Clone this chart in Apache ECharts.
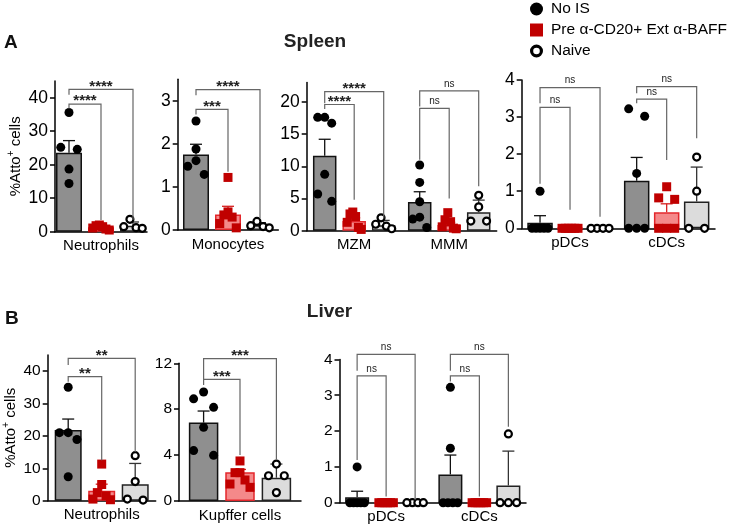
<!DOCTYPE html>
<html><head><meta charset="utf-8">
<script src="https://cdn.jsdelivr.net/npm/echarts@6/dist/echarts.min.js"></script>
<style>html,body{margin:0;padding:0;background:#fff}#c{width:733px;height:527px}</style>
</head><body><div id="c"></div>
<script>
const groupNames = ['No IS', 'Pre α-CD20+ Ext α-BAFF', 'Naive'];

// ---- Spleen: Neutrophils ----
const spNeuCats = ['Neutrophils'];
const spNeuTicks = [0, 10, 20, 30, 40];
const spNeuMeans = [[23.6], [1.3], [1.8]];
const spNeuErr = [[27.2], [1.7], [2.9]];
const spNeuPts = [[[35.6, 25.2, 24.6, 18.7, 14.4]], [[2.0, 1.8, 1.5, 1.1, 0.8, 0.5]], [[3.7, 1.5, 1.2, 1.0]]];
const spNeuBr = [[0, 0, 1, 38.1, 36.8, 3.5, '****'], [0, 0, 2, 42.5, 40.9, 3.6, '****']];

// ---- Spleen: Monocytes ----
const spMonCats = ['Monocytes'];
const spMonTicks = [0, 1, 2, 3];
const spMonMeans = [[1.75], [0.36], [0.11]];
const spMonErr = [[1.99], [0.55], [0.17]];
const spMonPts = [[[2.53, 1.88, 1.61, 1.48, 1.29]], [[1.22, 0.42, 0.35, 0.3, 0.15, 0.05]], [[0.2, 0.1, 0.08, 0.05]]];
const spMonBr = [[0, 0, 1, 2.8, 2.68, 1.35, '***'], [0, 0, 2, 3.26, 3.13, 0.27, '****']];

// ---- Spleen: MZM / MMM ----
const spMacCats = ['MZM', 'MMM'];
const spMacTicks = [0, 5, 10, 15, 20];
const spMacMeans = [[11.65, 4.45], [1.5, 0.9], [0.85, 2.85]];
const spMacErr = [[14.2, 6.05], [2.0, 1.3], [1.6, 4.75]];
const spMacPts = [
  [[17.6, 16.7, 17.6, 8.75, 5.7, 4.56], [10.2, 7.5, 4.5, 2.1, 1.8, 0.5]],
  [[2.9, 2.6, 2.2, 1.3, 0.5, 0.2], [2.8, 1.7, 1.4, 0.6, 0.4, 0.3]],
  [[2.0, 1.0, 0.7, 0.3], [5.5, 3.7, 1.5, 1.5]]
];
const spMacBr = [[0, 0, 1, 19.6, 18.9, 4.8, '****'], [0, 0, 2, 21.6, 19.8, 1.9, '****'],
                 [1, 0, 1, 19.0, 11.0, 5.0, 'ns'], [1, 0, 2, 21.7, 19.3, 6.9, 'ns']];

// ---- Spleen: pDCs / cDCs ----
const spDcCats = ['pDCs', 'cDCs'];
const spDcTicks = [0, 1, 2, 3, 4];
const spDcMeans = [[0.15, 1.28], [0, 0.43], [0, 0.72]];
const spDcErr = [[0.34, 1.91], [0, 0.66], [0, 1.65]];
const spDcPts = [
  [[1.0, 0, 0, 0, 0, 0], [3.22, 3.02, 1.48, 0, 0, 0]],
  [[0, 0, 0, 0, 0, 0], [1.12, 0.82, 0.78, 0, 0, 0]],
  [[0, 0, 0, 0], [1.92, 1.0, 0, 0]]
];
const spDcBr = [[0, 0, 1, 3.26, 1.2, 0.5, 'ns'], [0, 0, 2, 3.79, 3.37, 0.31, 'ns'],
                [1, 0, 1, 3.48, 3.37, 1.84, 'ns'], [1, 0, 2, 3.82, 3.64, 2.43, 'ns']];

// ---- Liver: Neutrophils ----
const lvNeuCats = ['Neutrophils'];
const lvNeuTicks = [0, 10, 20, 30, 40];
const lvNeuMeans = [[21.8], [3.1], [5.1]];
const lvNeuErr = [[25.2], [5.1], [11.5]];
const lvNeuPts = [[[35, 21, 21, 18.9, 7.4]], [[11.3, 5.0, 2.5, 1.5, 0.5, 0.3]], [[13.9, 5.9, 0.5, 0.2]]];
const lvNeuBr = [[0, 0, 1, 38.3, 36.7, 12.5, '**'], [0, 0, 2, 43.9, 41.9, 15.0, '**']];

// ---- Liver: Kupffer cells ----
const lvKupCats = ['Kupffer cells'];
const lvKupTicks = [0, 4, 8, 12];
const lvKupMeans = [[6.84], [2.5], [2.03]];
const lvKupErr = [[7.84], [2.75], [3.22]];
const lvKupPts = [[[9.5, 8.9, 8.16, 6.42, 4.39, 3.98]], [[3.49, 2.47, 2.47, 1.83, 1.48, 1.19]], [[3.22, 2.2, 2.2, 0.73]]];
const lvKupBr = [[0, 0, 1, 10.6, 10.1, 4.0, '***'], [0, 0, 2, 12.4, 10.6, 3.6, '***']];

// ---- Liver: pDCs / cDCs ----
const lvDcCats = ['pDCs', 'cDCs'];
const lvDcTicks = [0, 1, 2, 3, 4];
const lvDcMeans = [[0.15, 0.79], [0, 0], [0, 0.48]];
const lvDcErr = [[0.32, 1.33], [0, 0], [0, 1.44]];
const lvDcPts = [
  [[1.0, 0, 0, 0, 0, 0], [3.22, 1.52, 0, 0, 0, 0]],
  [[0, 0, 0, 0, 0, 0], [0, 0, 0, 0, 0, 0]],
  [[0, 0, 0, 0], [1.92, 0, 0, 0]]
];
const lvDcBr = [[0, 0, 1, 3.54, 1.19, 0.17, 'ns'], [0, 0, 2, 4.14, 3.68, 0.08, 'ns'],
                [1, 0, 1, 3.54, 3.38, 0.17, 'ns'], [1, 0, 2, 4.14, 3.68, 2.12, 'ns']];

// ---- layout (positions/sizes) ----
const panels = [
  {cats: spNeuCats, ticks: spNeuTicks, means: spNeuMeans, err: spNeuErr, pts: spNeuPts, br: spNeuBr, yMax: 45,
   grid: {left: 55, top: 81, width: 92, height: 150.7}, bw: 26, sp: 32, tf: 17.5, yName: true, nameGap: 30},
  {cats: spMonCats, ticks: spMonTicks, means: spMonMeans, err: spMonErr, pts: spMonPts, br: spMonBr, yMax: 3.5,
   grid: {left: 177.7, top: 79.2, width: 100.6, height: 150.8}, bw: 26, sp: 32, tf: 17.5},
  {cats: spMacCats, ticks: spMacTicks, means: spMacMeans, err: spMacErr, pts: spMacPts, br: spMacBr, yMax: 23,
   grid: {left: 306.7, top: 82.6, width: 190, height: 148.1}, bw: 23.5, sp: 29.5, tf: 17.5},
  {cats: spDcCats, ticks: spDcTicks, means: spDcMeans, err: spDcErr, pts: spDcPts, br: spDcBr, yMax: 4,
   grid: {left: 521.7, top: 79.9, width: 193.3, height: 148.4}, bw: 25.5, sp: 30, tf: 17.5},
  {cats: lvNeuCats, ticks: lvNeuTicks, means: lvNeuMeans, err: lvNeuErr, pts: lvNeuPts, br: lvNeuBr, yMax: 45,
   grid: {left: 47.7, top: 354.9, width: 108, height: 145.8}, bw: 27, sp: 33.5, tf: 15.5, yName: true, nameGap: 25},
  {cats: lvKupCats, ticks: lvKupTicks, means: lvKupMeans, err: lvKupErr, pts: lvKupPts, br: lvKupBr, yMax: 12,
   grid: {left: 179, top: 363.3, width: 122, height: 137.7}, bw: 29.5, sp: 36.4, tf: 15.5},
  {cats: lvDcCats, ticks: lvDcTicks, means: lvDcMeans, err: lvDcErr, pts: lvDcPts, br: lvDcBr, yMax: 4,
   grid: {left: 339.5, top: 359.4, width: 186.5, height: 143.3}, bw: 24, sp: 29, tf: 15.5}
];

const FONT = 'Arial';
const barStyles = [
  {color: '#8f8f8f', borderColor: '#111', borderWidth: 1.5},
  {color: '#f4898a', borderColor: '#e3262b', borderWidth: 1.5},
  {color: '#dcdcdc', borderColor: '#222', borderWidth: 1.5}
];
const errColors = ['#111', '#d61f1f', '#333'];
const symStyles = [
  {symbol: 'circle', size: 9, style: {color: '#000', opacity: 1}},
  {symbol: 'rect', size: 9, style: {color: '#c00000', opacity: 1}},
  {symbol: 'circle', size: 7, style: {color: '#fff', borderColor: '#000', borderWidth: 2.2, opacity: 1}}
];

// Beeswarm-style horizontal spread of overlapping points (computed, not typed)
function swarm(values, pxPerUnit, size, barW) {
  const idx = values.map((v, i) => i).sort((a, b) => values[b] - values[a]);
  const offs = new Array(values.length).fill(0);
  let cl = [];
  const flush = () => {
    const n = cl.length;
    if (n > 1) {
      const step = Math.min(size * 2.1, (barW - size) / (n - 1));
      const slots = [];
      const mid = Math.floor((n - 1) / 2);
      slots.push(mid);
      for (let d = 1; slots.length < n; d++) {
        if (mid - d >= 0) slots.push(mid - d);
        if (slots.length < n && mid + d < n) slots.push(mid + d);
      }
      cl.forEach((k, j) => { offs[k] = (slots[j] - (n - 1) / 2) * step; });
    }
    cl = [];
  };
  idx.forEach(k => {
    if (cl.length && (values[cl[cl.length - 1]] - values[k]) * pxPerUnit >= size) flush();
    cl.push(k);
  });
  flush();
  return offs;
}

function errRender(off, color) {
  return function (params, api) {
    const c = api.value(0), m = api.value(1), t = api.value(2);
    if (!(t > m)) return null;
    const p0 = api.coord([c, m]), p1 = api.coord([c, t]);
    const x = p0[0] + off;
    const st = {stroke: color, lineWidth: 1.3};
    return {type: 'group', children: [
      {type: 'line', shape: {x1: x, y1: p0[1], x2: x, y2: p1[1]}, style: st},
      {type: 'line', shape: {x1: x - 6, y1: p1[1], x2: x + 6, y2: p1[1]}, style: st}
    ]};
  };
}

function brRender(br, sp) {
  return function (params, api) {
    const b = br[params.dataIndex];
    const c = b[0], from = b[1], to = b[2], y = b[3], yL = b[4], yR = b[5], label = b[6];
    const base = api.coord([c, y]);
    const xL = base[0] + (from - 1) * sp, xR = base[0] + (to - 1) * sp;
    const yl = api.coord([c, yL])[1], yr = api.coord([c, yR])[1];
    const ns = label === 'ns';
    return {type: 'group', children: [
      {type: 'polyline', shape: {points: [[xL, yl], [xL, base[1]], [xR, base[1]], [xR, yr]]},
       style: {stroke: '#666', lineWidth: 1.2, fill: 'none'}},
      {type: 'text', x: (xL + xR) / 2, y: ns ? base[1] - 2 : base[1] - 3,
       style: {text: label, align: 'center', verticalAlign: ns ? 'bottom' : 'middle',
               font: ns ? '10px Arial' : 'bold 15px Arial', fill: '#222'}}
    ]};
  };
}

const option = {
  animation: false,
  backgroundColor: '#fff',
  grid: [], xAxis: [], yAxis: [], series: [],
  legend: {
    orient: 'vertical', left: 530, top: 1, padding: 0, itemWidth: 13, itemHeight: 13, itemGap: 5,
    selectedMode: false,
    textStyle: {fontSize: 15.5, color: '#000', fontFamily: FONT, padding: [0, 0, 0, 3]},
    data: [
      {name: groupNames[0], icon: 'circle', itemStyle: {color: '#000', borderWidth: 0}},
      {name: groupNames[1], icon: 'rect', itemStyle: {color: '#c00000', borderWidth: 0}},
      {name: groupNames[2], icon: 'path://M0,-6.5A6.5,6.5 0 1,1 0,6.5A6.5,6.5 0 1,1 0,-6.5ZM0,-3.3A3.3,3.3 0 1,0 0,3.3A3.3,3.3 0 1,0 0,-3.3Z',
       itemStyle: {color: '#000', borderWidth: 0}}
    ]
  },
  graphic: [
    {type: 'text', x: 4, y: 43, style: {text: 'A', font: 'bold 19px Arial', fill: '#111', verticalAlign: 'middle'}},
    {type: 'text', x: 315, y: 42, style: {text: 'Spleen', font: 'bold 19px Arial', fill: '#222', align: 'center', verticalAlign: 'middle'}},
    {type: 'text', x: 5, y: 319, style: {text: 'B', font: 'bold 19px Arial', fill: '#111', verticalAlign: 'middle'}},
    {type: 'text', x: 329.5, y: 311.5, style: {text: 'Liver', font: 'bold 19px Arial', fill: '#222', align: 'center', verticalAlign: 'middle'}}
  ]
};

panels.forEach((p, g) => {
  option.grid.push(Object.assign({}, p.grid));
  option.xAxis.push({
    type: 'category', gridIndex: g, data: p.cats,
    axisLine: {lineStyle: {color: '#000', width: 1.5}},
    axisTick: {alignWithLabel: true, length: 4, lineStyle: {color: '#000', width: 1.5}},
    axisLabel: {fontSize: 15, color: '#000', fontFamily: FONT, margin: 7}
  });
  const ya = {
    type: 'value', gridIndex: g, min: 0, max: p.yMax, interval: p.ticks[1] - p.ticks[0],
    splitLine: {show: false},
    axisLine: {show: true, lineStyle: {color: '#000', width: 1.5}},
    axisTick: {show: true, length: 5, lineStyle: {color: '#000', width: 1.5}, customValues: p.ticks},
    axisLabel: {fontSize: p.tf, color: '#000', fontFamily: FONT, margin: 7, customValues: p.ticks}
  };
  if (p.yName) {
    Object.assign(ya, {
      name: '%Atto{sup|+} cells', nameLocation: 'middle', nameGap: p.nameGap, nameRotate: 90,
      nameTextStyle: {fontSize: 15, color: '#000', fontFamily: FONT, lineHeight: 18,
        rich: {sup: {fontSize: 10, color: '#000', fontFamily: FONT, verticalAlign: 'top', lineHeight: 18}}}
    });
  }
  option.yAxis.push(ya);
  const gapPct = ((p.sp - p.bw) / p.bw * 100).toFixed(1) + '%';
  const pxPerUnit = p.grid.height / p.yMax;
  for (let s = 0; s < 3; s++) {
    option.series.push({
      type: 'bar', xAxisIndex: g, yAxisIndex: g, data: p.means[s], barWidth: p.bw, barGap: gapPct,
      itemStyle: barStyles[s], z: 2, silent: true
    });
    option.series.push({
      type: 'custom', xAxisIndex: g, yAxisIndex: g, z: 3, silent: true,
      data: p.cats.map((_, c) => [c, p.means[s][c], p.err[s][c]]),
      encode: {x: 0, y: [1, 2]},
      renderItem: errRender((s - 1) * p.sp, errColors[s])
    });
    const sdata = [];
    p.cats.forEach((_, c) => {
      const vals = p.pts[s][c];
      const offs = swarm(vals, pxPerUnit, symStyles[s].size + 0.5, p.bw);
      vals.forEach((v, k) => {
        sdata.push({value: [c, v], symbolOffset: [(s - 1) * p.sp + offs[k], 0]});
      });
    });
    option.series.push({
      type: 'scatter', name: groupNames[s], xAxisIndex: g, yAxisIndex: g, data: sdata, clip: false,
      symbol: symStyles[s].symbol, symbolSize: symStyles[s].size, itemStyle: symStyles[s].style, z: 4, silent: true
    });
  }
  option.series.push({
    type: 'custom', xAxisIndex: g, yAxisIndex: g, z: 5, silent: true, clip: false,
    data: p.br.map(b => [b[0], b[3]]), encode: {x: 0, y: 1},
    renderItem: brRender(p.br, p.sp)
  });
});

const chart = echarts.init(document.getElementById('c'), null, {renderer: 'canvas'});
chart.setOption(option);
</script>
</body></html>
